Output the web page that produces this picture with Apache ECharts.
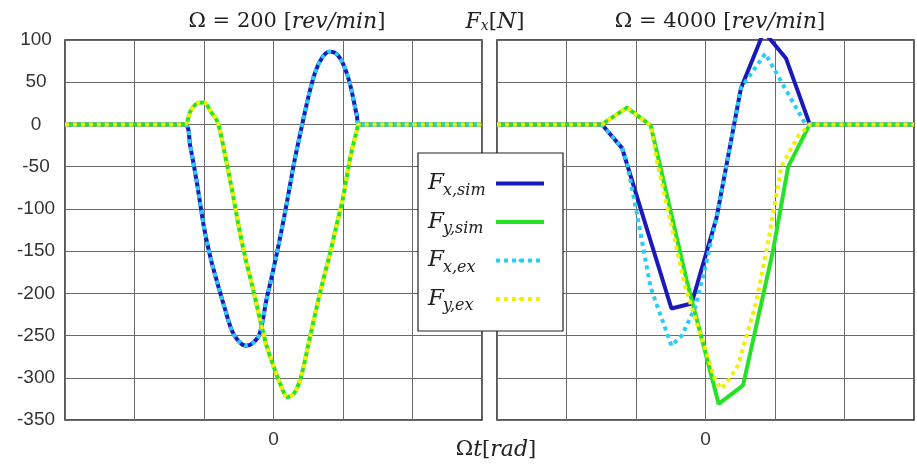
<!DOCTYPE html>
<html><head><meta charset="utf-8">
<script src="https://cdn.jsdelivr.net/npm/echarts@6/dist/echarts.min.js"></script>
<style>html,body{margin:0;padding:0;background:#fff}#c{width:917px;height:465px}</style>
</head><body><div id="c"></div>
<script>
// ---- axes ----
const xMin = -3, xMax = 3, xStep = 1;
const yMin = -350, yMax = 100, yStep = 50;
const xTickLabels = { '0': '0' };

// ---- series names / colours ----
const names = ['Fx,sim', 'Fy,sim', 'Fx,ex', 'Fy,ex'];
const colors = ['#1a1abc', '#26e226', '#2accf2', '#f4ee00'];

// ---- Ω = 200 rev/min  [Ωt (rad), F (N)] ----
const fxSim200 = [[-3,0],[-1.28,0],[-1.2,-25],[-1.1,-70],[-1.0,-122],[-0.9,-160],[-0.8,-190],[-0.7,-218],[-0.6,-244],[-0.5,-257],[-0.4,-262],[-0.3,-259],[-0.2,-248],[-0.1,-207],[0.0,-171],[0.1,-132],[0.2,-89],[0.3,-44],[0.4,-5],[0.5,32],[0.6,62],[0.7,79],[0.8,86],[0.9,84],[1.0,72],[1.1,48],[1.2,10],[1.23,0],[3,0]];
const fySim200 = [[-3,0],[-1.28,0],[-1.2,15],[-1.1,25],[-1.0,26],[-0.9,15],[-0.8,2],[-0.7,-35],[-0.6,-76],[-0.5,-121],[-0.4,-160],[-0.3,-193],[-0.2,-229],[-0.1,-262],[0.0,-286],[0.1,-308],[0.2,-323],[0.3,-318],[0.4,-298],[0.5,-261],[0.6,-224],[0.7,-189],[0.8,-157],[0.9,-122],[1.0,-87],[1.1,-41],[1.2,-7],[1.23,0],[3,0]];
const fxEx200 = [[-3,0],[-1.28,0],[-1.2,-25],[-1.1,-70],[-1.0,-122],[-0.9,-160],[-0.8,-190],[-0.7,-218],[-0.6,-244],[-0.5,-257],[-0.4,-262],[-0.3,-259],[-0.2,-248],[-0.1,-207],[0.0,-171],[0.1,-132],[0.2,-89],[0.3,-44],[0.4,-5],[0.5,32],[0.6,62],[0.7,79],[0.8,86],[0.9,84],[1.0,72],[1.1,48],[1.2,10],[1.23,0],[3,0]];
const fyEx200 = [[-3,0],[-1.28,0],[-1.2,15],[-1.1,25],[-1.0,26],[-0.9,15],[-0.8,2],[-0.7,-35],[-0.6,-76],[-0.5,-121],[-0.4,-160],[-0.3,-193],[-0.2,-229],[-0.1,-262],[0.0,-286],[0.1,-308],[0.2,-323],[0.3,-318],[0.4,-298],[0.5,-261],[0.6,-224],[0.7,-189],[0.8,-157],[0.9,-122],[1.0,-87],[1.1,-41],[1.2,-7],[1.23,0],[3,0]];

// ---- Ω = 4000 rev/min ----
const fxSim4000 = [[-3,0],[-1.49,0],[-1.20,-28],[-0.97,-90],[-0.49,-218],[-0.20,-212],[0.16,-110],[0.51,43],[0.84,110],[1.16,78],[1.50,0],[3,0]];
const fySim4000 = [[-3,0],[-1.49,0],[-1.13,20],[-0.79,-1],[-0.67,-43],[-0.27,-185],[0.19,-331],[0.54,-309],[0.97,-150],[1.19,-50],[1.50,0],[3,0]];
const fxEx4000 = [[-3,0],[-1.49,0],[-1.20,-28],[-1.13,-45],[-1.00,-100],[-0.79,-193],[-0.49,-262],[-0.34,-250],[-0.14,-215],[0.00,-168],[0.16,-110],[0.51,43],[0.86,84],[1.44,0],[3,0]];
const fyEx4000 = [[-3,0],[-1.49,0],[-1.13,20],[-0.79,-1],[-0.70,-43],[-0.29,-193],[0.00,-267],[0.14,-303],[0.23,-313],[0.33,-303],[0.47,-285],[0.61,-245],[0.73,-210],[0.90,-140],[1.09,-50],[1.33,-14],[1.50,0],[3,0]];

const panels = [
  [fxSim200, fySim200, fxEx200, fyEx200],
  [fxSim4000, fySim4000, fxEx4000, fyEx4000]
];

const serif = 'DejaVu Serif';
const legendRich = {
  'Fx,sim': '{F|F}{s|x,sim}', 'Fy,sim': '{F|F}{s|y,sim}',
  'Fx,ex': '{F|F}{s|x,ex}', 'Fy,ex': '{F|F}{s|y,ex}'
};

const chart = echarts.init(document.getElementById('c'), null, { renderer: 'canvas' });

function xAxis(i) {
  return {
    type: 'value', gridIndex: i, min: xMin, max: xMax, interval: xStep,
    axisLine: { show: false }, axisTick: { show: false },
    splitLine: { show: true, lineStyle: { color: '#6a6a6a', width: 1 } },
    axisLabel: {
      margin: 10, fontFamily: 'Liberation Sans', fontSize: 19, color: '#333',
      formatter: v => xTickLabels[String(v)] || ''
    }
  };
}
function yAxis(i) {
  return {
    type: 'value', gridIndex: i, min: yMin, max: yMax, interval: yStep,
    axisLine: { show: false }, axisTick: { show: false },
    splitLine: { show: true, lineStyle: { color: '#6a6a6a', width: 1 } },
    axisLabel: {
      show: i === 0, margin: 29, align: 'center', padding: [12, 0, 0, 0],
      fontFamily: 'Liberation Sans', fontSize: 19, color: '#333'
    }
  };
}

const series = [];
panels.forEach((p, gi) => {
  p.forEach((d, k) => {
    const ex = k >= 2;
    series.push({
      name: names[k], type: 'line', xAxisIndex: gi, yAxisIndex: gi,
      data: d, symbol: 'none', showSymbol: false, clip: true,
      smooth: gi === 0 ? 0.3 : false,
      z: ex ? 4 : 3,
      lineStyle: { color: colors[k], width: 4, type: ex ? [4, 4] : 'solid', cap: 'butt' },
      itemStyle: { color: colors[k] },
      animation: false
    });
  });
});

function txt(x, y, text, rich) {
  return { type: 'text', x: x, y: y, z: 10,
    style: { text: text, align: 'center', verticalAlign: 'middle', fill: '#222', rich: rich } };
}
const mathRich = {
  n: { fontFamily: serif, fontSize: 21, fill: '#222' },
  i: { fontFamily: serif, fontStyle: 'italic', fontSize: 22, fill: '#222' },
  s: { fontFamily: serif, fontStyle: 'italic', fontSize: 14, fill: '#222', verticalAlign: 'bottom', lineHeight: 14 }
};

chart.setOption({
  backgroundColor: '#fff',
  animation: false,
  grid: [
    { left: 65, top: 40, width: 417, height: 380, show: true, borderColor: '#222', borderWidth: 1.5, backgroundColor: 'transparent' },
    { left: 497, top: 40, width: 419, height: 380, show: true, borderColor: '#222', borderWidth: 1.5, backgroundColor: 'transparent' }
  ],
  xAxis: [xAxis(0), xAxis(1)],
  yAxis: [yAxis(0), yAxis(1)],
  legend: {
    data: names, orient: 'vertical', left: 418, top: 153, align: 'right',
    itemWidth: 48, itemHeight: 4, itemGap: 12,
    padding: [19, 17, 17, 10],
    backgroundColor: '#fff', borderColor: '#222', borderWidth: 1.2, borderRadius: 0,
    selectedMode: false, z: 20,
    lineStyle: { width: 4 },
    formatter: n => legendRich[n],
    textStyle: {
      rich: {
        F: { fontFamily: serif, fontStyle: 'italic', fontSize: 23, color: '#222', width: 15, align: 'left', lineHeight: 30 },
        s: { fontFamily: serif, fontStyle: 'italic', fontSize: 16, color: '#222', width: 48, align: 'left', verticalAlign: 'bottom', lineHeight: 15 }
      }
    }
  },
  graphic: [
    txt(287, 22, '{n|Ω = 200 [}{i|rev/min}{n|]}', mathRich),
    txt(720, 22, '{n|Ω = 4000 [}{i|rev/min}{n|]}', mathRich),
    txt(495, 22, '{i|F}{s|x}{n|[}{i|N}{n|]}', mathRich),
    txt(496, 450, '{n|Ω}{i|t}{n|[}{i|rad}{n|]}', mathRich)
  ],
  series: series
});
</script>
</body></html>
